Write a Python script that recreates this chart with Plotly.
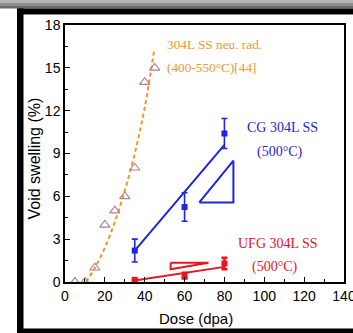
import plotly.graph_objects as go

# Neutron-irradiated 304L SS (400-550 C), literature data [44]
neu_dose = [5, 10, 15, 20, 25, 30, 35, 40, 45]
neu_swell = [0, 0, 1, 4, 5, 6, 8, 14, 15]
# trend curve through the neutron data
neu_fit_dose = [10.5, 15, 20, 25, 30, 35, 40, 44.7]
neu_fit_swell = [0, 1.0, 2.4, 4.2, 6.4, 9.0, 12.2, 16.2]

# Coarse-grained 304L SS, 500 C
cg_dose = [35, 60, 80]
cg_swell = [2.2, 5.25, 10.4]
cg_err = [0.8, 1.0, 1.05]
cg_fit_dose = [35, 80]
cg_fit_swell = [2.2, 9.6]
cg_tri_dose = [67.4, 84.5, 84.5, 67.4]
cg_tri_swell = [5.57, 5.57, 8.5, 5.57]

# Ultrafine-grained 304L SS, 500 C
ufg_dose = [35, 60, 80]
ufg_swell = [0.15, 0.45, 1.3]
ufg_err = [0.0, 0.2, 0.4]
ufg_fit_dose = [35, 80]
ufg_fit_swell = [0.11, 1.06]
ufg_tri_dose = [53, 72, 53, 53]
ufg_tri_swell = [1.35, 1.35, 0.89, 1.35]

x_ticks = [0, 20, 40, 60, 80, 100, 120, 140]
y_ticks = [0, 3, 6, 9, 12, 15, 18]

ORANGE = "#F2962A"
TRI = "#B27E8E"
BLUE = "#1F24E0"
RED = "#E8141E"

W, H = 353, 333
L, R, T, B = 65, 9, 25, 51
PW, PH = W - L - R, H - T - B


def px_x(p):
    return (p - L) / PW


def px_y(p):
    return (H - B - p) / PH


fig = go.Figure()

fig.add_trace(go.Scatter(
    x=neu_fit_dose, y=neu_fit_swell, mode="lines",
    line=dict(color=ORANGE, width=2, dash="4px,3px", shape="spline"),
    showlegend=False))
fig.add_trace(go.Scatter(
    x=neu_dose, y=neu_swell, mode="markers",
    marker=dict(symbol="triangle-up-open", size=9, color=TRI,
                line=dict(width=1.1, color=TRI)),
    showlegend=False))

fig.add_trace(go.Scatter(
    x=cg_fit_dose, y=cg_fit_swell, mode="lines",
    line=dict(color=BLUE, width=2), showlegend=False))
fig.add_trace(go.Scatter(
    x=cg_tri_dose, y=cg_tri_swell, mode="lines",
    line=dict(color=BLUE, width=2), showlegend=False))
fig.add_trace(go.Scatter(
    x=cg_dose, y=cg_swell, mode="markers",
    marker=dict(symbol="square", size=6, color=BLUE),
    error_y=dict(type="data", array=cg_err, color=BLUE, thickness=1.6, width=3),
    showlegend=False))

fig.add_trace(go.Scatter(
    x=ufg_fit_dose, y=ufg_fit_swell, mode="lines",
    line=dict(color=RED, width=2), showlegend=False))
fig.add_trace(go.Scatter(
    x=ufg_tri_dose, y=ufg_tri_swell, mode="lines",
    line=dict(color=RED, width=2), showlegend=False))
fig.add_trace(go.Scatter(
    x=ufg_dose, y=ufg_swell, mode="markers",
    marker=dict(symbol="square", size=6, color=RED),
    error_y=dict(type="data", array=ufg_err, color=RED, thickness=2.5, width=3),
    showlegend=False))

serif = "Liberation Serif"
notes = [
    ("304L SS neu. rad.", 74.8, 16.6, ORANGE, 13.3),
    ("(400-550°C)[44]", 73.8, 15.0, ORANGE, 13.3),
    ("CG 304L SS", 108.9, 10.8, BLUE, 14),
    ("(500°C)", 107.9, 9.1, BLUE, 14),
    ("UFG 304L SS", 106.9, 2.7, RED, 14),
    ("(500°C)", 105.4, 1.05, RED, 14),
]
for txt, x, y, col, sz in notes:
    fig.add_annotation(x=x, y=y, text=txt, showarrow=False, xanchor="center",
                       yanchor="middle", font=dict(family=serif, size=sz, color=col))

# axis titles
fig.add_annotation(xref="paper", yref="paper", x=px_x(34.5), y=px_y(159),
                   text="Void swelling (%)", textangle=-90, showarrow=False,
                   xanchor="center", yanchor="middle",
                   font=dict(family="Liberation Sans", size=16, color="black"))
fig.add_annotation(xref="paper", yref="paper", x=px_x(196), y=px_y(318),
                   text="Dose (dpa)", showarrow=False,
                   xanchor="center", yanchor="middle",
                   font=dict(family="Liberation Sans", size=15, color="black"))

# outer frame
frame = [
    (0, 0, W, 3, "#b4b4b4"),
    (0, 3, W, 6, "#8e8e8e"),
    (0, 6, W, 8.5, "#6a6a6a"),
    (17, 8.5, W, 14.5, "#000000"),
    (17, 8.5, 23.5, H, "#000000"),
    (17, 328.5, W, H, "#000000"),
]
for x0, y0, x1, y1, col in frame:
    fig.add_shape(type="rect", xref="paper", yref="paper",
                  x0=px_x(x0), x1=px_x(x1), y0=px_y(y1), y1=px_y(y0),
                  fillcolor=col, line=dict(width=0), layer="above")

axis_common = dict(
    showline=True, linecolor="black", linewidth=1.5, mirror=True,
    ticks="inside", ticklen=5, tickwidth=1.2, tickcolor="black",
    showgrid=False, zeroline=False, automargin=False,
    ticklabeloverflow="allow",
    tickfont=dict(family="Liberation Sans", size=14, color="black"),
)

fig.update_layout(
    width=W, height=H,
    margin=dict(l=L, r=R, t=T, b=B, autoexpand=False),
    paper_bgcolor="white", plot_bgcolor="white",
    xaxis=dict(range=[0, 140], tickvals=x_ticks,
               minor=dict(dtick=10, ticks="inside", ticklen=3, tickcolor="black"),
               **axis_common),
    yaxis=dict(range=[0, 18], tickvals=y_ticks,
               minor=dict(dtick=1.5, ticks="inside", ticklen=3, tickcolor="black"),
               **axis_common),
)

fig.write_html("out.html")
